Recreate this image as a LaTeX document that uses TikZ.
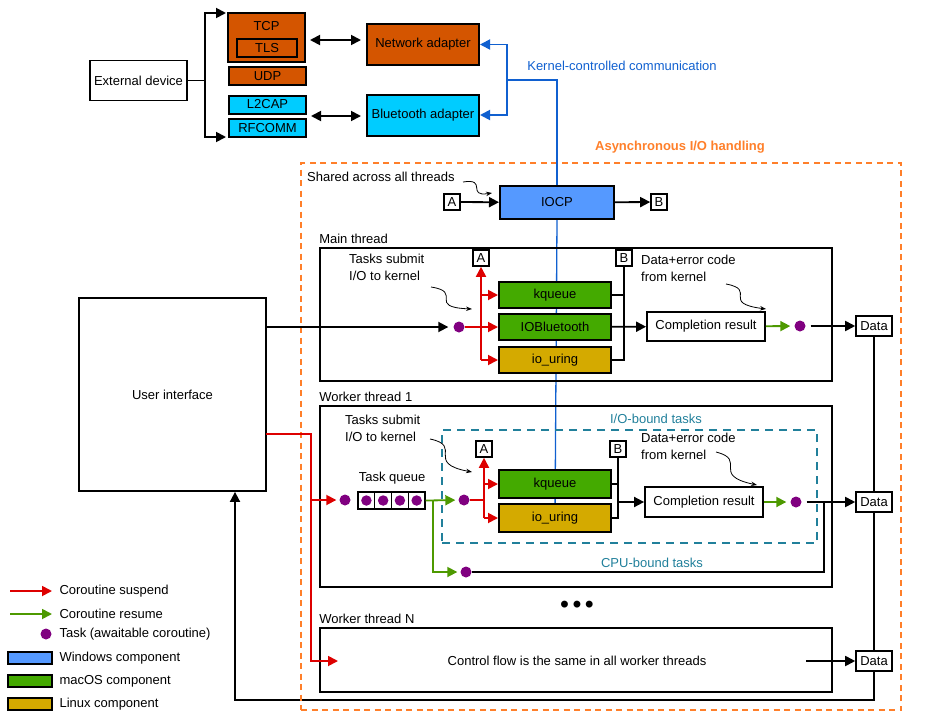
\documentclass[tikz,border=0pt]{standalone}
\usepackage{fontspec}
\setmainfont{Liberation Sans}
\usetikzlibrary{arrows.meta, positioning, calc, backgrounds}
\definecolor{protoorange}{HTML}{D45500}
\definecolor{btcyan}{HTML}{00CCFF}
\definecolor{winblue}{HTML}{5599FF}
\definecolor{macgreen}{HTML}{44AA00}
\definecolor{linyellow}{HTML}{D4AA00}
\definecolor{suspred}{HTML}{DD0000}
\definecolor{resgreen}{HTML}{4D9900}
\definecolor{taskpurple}{HTML}{800080}
\definecolor{kernblue}{HTML}{1060D0}
\definecolor{asyncorange}{HTML}{FF7F2A}
\definecolor{boundteal}{HTML}{21809B}

\begin{document}
\begin{tikzpicture}[x=1pt, y=-1pt, >={Triangle[length=10pt,width=10pt]}, font=\fontsize{13}{17}\selectfont]
        \tikzstyle{comp}=[draw, line width=2pt, inner sep=0pt, minimum width=112pt, minimum height=26pt]
        \tikzstyle{plain}=[draw, line width=1.8pt, fill=white, inner sep=0pt]
        \tikzstyle{tag}=[draw, line width=1.6pt, fill=white, inner sep=0pt, minimum width=16pt, minimum height=16pt]
        \tikzstyle{datatag}=[draw, line width=1.6pt, fill=white, inner sep=0pt, minimum width=36pt, minimum height=20pt]
        \tikzstyle{thread}=[draw, line width=1.8pt, inner sep=0pt]
        \tikzstyle{dot}=[circle, fill=taskpurple, inner sep=0pt, minimum size=11pt]
        \tikzstyle{flow}=[line width=1.8pt]
        \tikzstyle{susp}=[line width=1.8pt, suspred]
        \tikzstyle{resume}=[line width=1.8pt, resgreen]
        \tikzstyle{kern}=[line width=1.8pt, kernblue]
        \tikzstyle{note}=[line width=0.8pt, -{Stealth[length=6pt,width=4.5pt]}]
        \tikzstyle{caption}=[anchor=south west, inner xsep=0pt, inner ysep=3pt]
        \useasboundingbox (0,0) rectangle (950,720);

        % --- Devices and protocols ---
        \node (ext)[plain, minimum width=97pt, minimum height=40pt] at (138.5,80.5) {External device};
        \node (tcp)[comp, fill=protoorange, minimum width=77pt, minimum height=49pt] at (266.5,37.5) {};
        \node (tcptext) at ($(tcp.north)+(0,14)$) {TCP};
        \node (tls)[comp, fill=protoorange, minimum width=60pt, minimum height=18pt] at (267,48) {TLS};
        \node (udp)[comp, fill=protoorange, minimum width=77pt, minimum height=18pt] at (267.5,76) {UDP};
        \node (l2cap)[comp, fill=btcyan, minimum width=77pt, minimum height=18pt] at (267.5,104.5) {L2CAP};
        \node (rfcomm)[comp, fill=btcyan, minimum width=77pt, minimum height=18pt] at (267.5,128) {RFCOMM};
        \node (net)[comp, fill=protoorange, minimum height=41pt] at (423,44.5) {Network adapter};
        \node (bt)[comp, fill=btcyan, minimum height=41pt] at (423,115) {Bluetooth adapter};

        % Fork from the external device
        \coordinate (fork) at (205,80.5);
        \coordinate (forktop) at (226,13);
        \coordinate (forkbot) at (226,137);
        \draw[flow] (ext) -- (fork);
        \draw[flow,->] (fork) |- (forktop);
        \draw[flow,->] (fork) |- (forkbot);
        \draw[flow,<->] ($(tcp.east)+(4,2.5)$) -- ($(tcp.east -| net.west)+(-5,2.5)$);
        \draw[flow,<->] ($(bt.west -| l2cap.east)+(4,1)$) -- ($(bt.west)+(-5,1)$);

        % --- Asynchronous I/O handling ---
        \node (async)[draw=asyncorange, line width=1.8pt, dash pattern=on 6pt off 4.5pt, minimum width=600pt, minimum height=547pt] at (601,436.5) {};
        \node (asynctext)[asyncorange, font=\fontsize{13}{17}\selectfont\bfseries] at (680,147) {Asynchronous I/O handling};

        \node (iocp)[comp, fill=winblue, minimum width=114pt, minimum height=33pt] at (557,202.5) {IOCP};
        \node (atop)[tag] at (452,202) {A};
        \node (btop)[tag] at (659,202) {B};
        \draw[flow,->] (atop) -- (iocp);
        \draw[flow,->] (iocp) -- (btop);
        \node (shared)[anchor=west, inner sep=0pt] at (307,177) {Shared across all threads};
        \draw[note] (463,182) .. controls (488,178) and (466,197) .. (492,193);

        % Kernel-controlled communication
        \coordinate (kc) at (507,80);
        \draw[kern,->] (iocp.north) |- (kc) |- (net.east);
        \draw[kern,->] (kc) |- (bt.east);
        \node (kctext)[kernblue] at (622,66) {Kernel-controlled communication};

        % --- Main thread ---
        \node (mainbox)[thread, minimum width=512pt, minimum height=133pt] at (576,314.5) {};
        \node[caption] at (mainbox.north west) {Main thread};
        \node (mkq)[comp, fill=macgreen] at (555,295) {kqueue};
        \node (miob)[comp, fill=macgreen] at (555,327) {IOBluetooth};
        \node (mur)[comp, fill=linyellow] at (555,360) {io\_uring};
        \node (ma)[tag] at (481,258) {A};
        \node (mb)[tag] at (624,258) {B};
        \node (mdot)[dot] at (459,327) {};
        \node (mres)[plain, minimum width=118pt, minimum height=29pt] at (706,326.5) {Completion result};
        \node (mdot2)[dot] at (800,326) {};
        \node (mdata)[datatag] at (874,326) {Data};
        \node (msubmit)[anchor=north west, align=left, inner sep=0pt] at (349,254) {Tasks submit\\I/O to kernel};
        \node (merr)[anchor=north west, align=left, inner sep=0pt] at (641,255) {Data+error code\\from kernel};
        \draw[note] (431,287) .. controls (464,292) and (426,307) .. (472,309);
        \draw[note] (726,284) .. controls (758,290) and (720,303) .. (766,309);

        \draw[susp] (mdot) -- (mdot -| ma);
        \draw[susp,->] (mur.west -| ma) -- (ma);
        \draw[susp,->] (mkq.west -| ma) -- (mkq.west);
        \draw[susp,->] (miob.west -| ma) -- (miob.west);
        \draw[susp,->] (mur.west -| ma) -- (mur.west);
        \draw[flow] (mkq.east) -| (mb);
        \draw[flow] (mur.east) -| (mkq.east -| mb);
        \draw[flow,->] (miob) -- (mres);
        \draw[resume,->, shorten >=4pt] (mres) -- (mdot2);
        \draw[flow,->, shorten <=5pt] (mdot2) -- (mdata);

        % --- Worker thread 1 ---
        \node (wbox)[thread, minimum width=512pt, minimum height=181pt] at (576,496.5) {};
        \node[caption] at (wbox.north west) {Worker thread 1};
        \node (iobound)[draw=boundteal, line width=1.7pt, dash pattern=on 8pt off 6pt, minimum width=375pt, minimum height=113pt] at (629.5,486.5) {};
        \node (iotext)[boundteal] at (656,419) {I/O-bound tasks};
        \node (cputext)[boundteal] at (652,563) {CPU-bound tasks};
        \node (wkq)[comp, fill=macgreen, minimum height=28pt] at (555,484) {kqueue};
        \node (wur)[comp, fill=linyellow, minimum height=28pt] at (555,518) {io\_uring};
        \node (wa)[tag] at (484,449) {A};
        \node (wb)[tag] at (618,449) {B};
        \node (wdot0)[dot] at (345,500) {};
        \foreach \i in {0,...,3} {
            \node (q\i)[draw, line width=1.1pt, inner sep=0pt, minimum width=16.75pt, minimum height=17pt] at (366.4+\i*16.75,500.5) {};
            \node[dot, minimum size=10.5pt] at (q\i) {};
        }
        \node (qtext) at ($(q1.north east)+(0,-13)$) {Task queue};
        \node (wdot)[dot] at (464,500) {};
        \node (cpudot)[dot] at (466,572) {};
        \node (wres)[plain, minimum width=118pt, minimum height=30pt] at (704,502) {Completion result};
        \node (wdot2)[dot] at (796,502) {};
        \node (wdata)[datatag] at (874,502) {Data};
        \node (wsubmit)[anchor=north west, align=left, inner sep=0pt] at (345,415) {Tasks submit\\I/O to kernel};
        \node (werr)[anchor=north west, align=left, inner sep=0pt] at (641,433) {Data+error code\\from kernel};
        \draw[note] (430,439) .. controls (464,446) and (424,463) .. (472,472);
        \draw[note] (716,452) .. controls (748,460) and (710,475) .. (757,485);

        \coordinate (qsplit) at (433,500.5);
        \draw[resume,->, shorten >=3pt] (q3.east) -- (wdot);
        \draw[resume,->, shorten >=3pt] (qsplit) |- (cpudot);
        \draw[susp] (wdot) -- (wdot -| wa);
        \draw[susp,->] (wur.west -| wa) -- (wa);
        \draw[susp,->] (wkq.west -| wa) -- (wkq.west);
        \draw[susp,->] (wur.west -| wa) -- (wur.west);
        \draw[flow] (wkq.east) -| (wb);
        \draw[flow] (wur.east) -| (wkq.east -| wb);
        \draw[flow,->] (wres -| wb) -- (wres);
        \draw[resume,->, shorten >=4pt] (wres) -- (wdot2);
        \draw[flow,->, shorten <=5pt] (wdot2) -- (wdata);
        \coordinate (cpujoin) at (824,502);
        \draw[flow] (cpudot) -| (cpujoin);

        % --- Worker thread N ---
        \node (dots)[font=\fontsize{24}{24}\selectfont\bfseries] at (577,607) {•\,•\,•};
        \node (nbox)[thread, minimum width=512pt, minimum height=64pt] at (576,660) {};
        \node[caption] at (nbox.north west) {Worker thread N};
        \node (ntext) at (577,661) {Control flow is the same in all worker threads};
        \node (ndata)[datatag] at (874,661) {Data};
        \coordinate (nin) at (338,661);
        \coordinate (nout) at (806,661);
        \draw[flow,->] (nout) -- (ndata);

        % --- User interface ---
        \node (ui)[plain, minimum width=187pt, minimum height=193pt] at (172.5,394.5) {User interface};
        \coordinate (uired) at (266,434);
        \coordinate (redsplit) at (311,500);
        \draw[flow,->, shorten >=5pt] (ui.east |- mdot) -- (mdot);
        \draw[susp,->] (uired) -| (redsplit |- nin) -- (nin);
        \draw[susp,->, shorten >=3pt] (redsplit) -- (wdot0);

        % Return path of the data
        \coordinate (loopr) at (874,700);
        \coordinate (loopl) at (235,700);
        \begin{pgfonlayer}{background}
            \draw[kern, line width=1.3pt] (iocp.south) -- (wur.center);
            \draw[flow,->] (mdata.south) -- (loopr) -- (loopl) -- (ui.south -| loopl);
        \end{pgfonlayer}

        % --- Legend ---
        \coordinate (lsusp) at (10,591);
        \coordinate (lres) at (10,614);
        \draw[susp,->] (lsusp) -- ++(42,0);
        \draw[resume,->] (lres) -- ++(42,0);
        \node[anchor=west] at (56,591) {Coroutine suspend};
        \node[anchor=west] at (56,614) {Coroutine resume};
        \node (ldot)[dot] at (46,634) {};
        \node[anchor=west] at (56,634) {Task (awaitable coroutine)};
        \foreach \col/\txt/\y in {winblue/Windows component/658, macgreen/macOS component/681, linyellow/Linux component/704} {
            \node[draw, line width=2pt, fill=\col, inner sep=0pt, minimum width=44pt, minimum height=12pt] at (30,\y) {};
            \node[anchor=west] at (56,\y) {\txt};
        }
    \end{tikzpicture}
\end{document}
